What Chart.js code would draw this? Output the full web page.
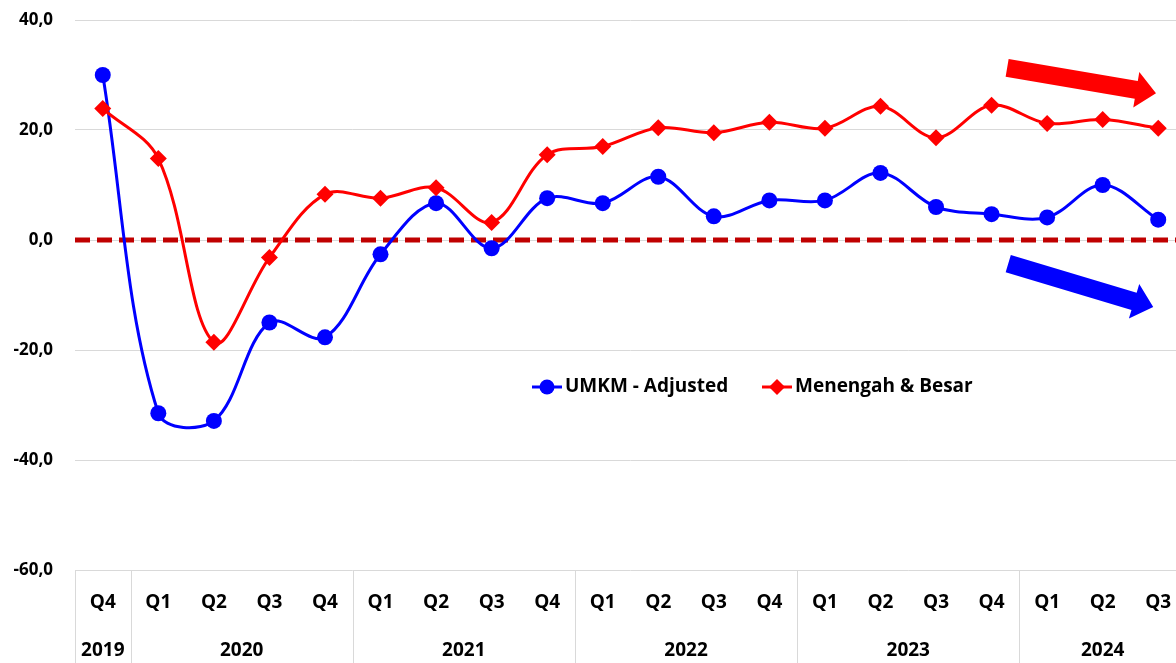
<!DOCTYPE html>
<html>
<head>
<meta charset="utf-8">
<script src="https://cdn.jsdelivr.net/npm/chart.js@4/dist/chart.umd.min.js"></script>
<style>
  html, body { margin: 0; padding: 0; background: #ffffff; overflow: hidden; }
  #wrap { width: 1186px; height: 663px; }
</style>
</head>
<body>
<div id="wrap"><canvas id="c" width="1186" height="663"></canvas></div>
<script>
// ---- Data ----
const quarters = ['Q4','Q1','Q2','Q3','Q4','Q1','Q2','Q3','Q4','Q1','Q2','Q3','Q4','Q1','Q2','Q3','Q4','Q1','Q2','Q3'];
const years = ['2019','2020','2021','2022','2023','2024'];
const yearSpans = [1, 4, 4, 4, 4, 3];
const umkmAdjusted = [30.0, -31.5, -32.9, -15.0, -17.7, -2.6, 6.7, -1.5, 7.6, 6.7, 11.5, 4.3, 7.2, 7.2, 12.2, 6.0, 4.7, 4.1, 10.0, 3.7];
const menengahBesar = [23.9, 14.8, -18.6, -3.2, 8.3, 7.6, 9.5, 3.2, 15.5, 17.0, 20.4, 19.5, 21.4, 20.3, 24.3, 18.6, 24.5, 21.2, 21.9, 20.3];
const zeroLevel = 0;
const yTicks = [40, 20, 0, -20, -40, -60];
const seriesNames = ['UMKM - Adjusted', 'Menengah & Besar'];
// trend arrows in data coordinates: [tailIndex, tailValue, tipIndex, tipValue]
const redArrow = [16.28, 31.3, 18.96, 26.7];
const blueArrow = [16.30, -4.3, 18.91, -12.2];

const FONT = '"Open Sans", Lato, sans-serif';
const BLUE = '#0000FF', RED = '#FF0000', DARKRED = '#C00000', GRID = '#D9D9D9';

function fmt(v) { return v.toFixed(1).replace('.', ','); }

const zeroPlugin = {
  id: 'zeroLine',
  beforeDatasetsDraw(chart) {
    const ctx = chart.ctx, area = chart.chartArea;
    const py = chart.scales.y.getPixelForValue(zeroLevel);
    ctx.save();
    ctx.strokeStyle = DARKRED;
    ctx.lineWidth = 5;
    ctx.setLineDash([15, 7]);
    ctx.beginPath();
    ctx.moveTo(area.left, py);
    ctx.lineTo(area.right, py);
    ctx.stroke();
    ctx.restore();
  }
};

const decorPlugin = {
  id: 'decor',
  afterDraw(chart) {
    const ctx = chart.ctx;
    const x = chart.scales.x, y = chart.scales.y;
    const area = chart.chartArea;
    const H = chart.height;
    function edge(i) {
      if (i <= 0) return area.left;
      if (i >= quarters.length) return area.right;
      return (x.getPixelForValue(i - 1) + x.getPixelForValue(i)) / 2;
    }
    ctx.save();
    ctx.strokeStyle = GRID;
    ctx.lineWidth = 1;
    let start = 0;
    const bounds = [0];
    yearSpans.forEach(s => { start += s; bounds.push(start); });
    bounds.forEach(b => {
      if (b >= quarters.length) return;
      const px = Math.round(edge(b)) + 0.5;
      ctx.beginPath();
      ctx.moveTo(px, area.bottom);
      ctx.lineTo(px, H);
      ctx.stroke();
    });
    ctx.fillStyle = '#000';
    ctx.font = 'bold 19px ' + FONT;
    ctx.textAlign = 'center';
    ctx.textBaseline = 'middle';
    years.forEach((yr, k) => {
      const a = bounds[k], b = bounds[k + 1];
      const cx = (x.getPixelForValue(a) + x.getPixelForValue(b - 1)) / 2;
      ctx.fillText(yr, cx, area.bottom + 81);
    });
    ctx.restore();

    // arrows
    function arrow(spec, color) {
      const x1 = x.getPixelForValue(spec[0]), y1 = y.getPixelForValue(spec[1]);
      const x2 = x.getPixelForValue(spec[2]), y2 = y.getPixelForValue(spec[3]);
      const dx = x2 - x1, dy = y2 - y1, L = Math.hypot(dx, dy);
      const ux = dx / L, uy = dy / L, nx = -uy, ny = ux;
      const shaft = 9, head = 18, hl = 20;
      const bx = x2 - ux * hl, by = y2 - uy * hl;
      ctx.save();
      ctx.fillStyle = color;
      ctx.beginPath();
      ctx.moveTo(x1 + nx * shaft, y1 + ny * shaft);
      ctx.lineTo(bx + nx * shaft, by + ny * shaft);
      ctx.lineTo(bx + nx * head, by + ny * head);
      ctx.lineTo(x2, y2);
      ctx.lineTo(bx - nx * head, by - ny * head);
      ctx.lineTo(bx - nx * shaft, by - ny * shaft);
      ctx.lineTo(x1 - nx * shaft, y1 - ny * shaft);
      ctx.closePath();
      ctx.fill();
      ctx.restore();
    }
    arrow(redArrow, RED);
    arrow(blueArrow, BLUE);

    // legend
    ctx.save();
    const ly = 387;
    const items = [
      { name: seriesNames[0], color: BLUE, style: 'circle', x0: 532 },
      { name: seriesNames[1], color: RED, style: 'rectRot', x0: 762 }
    ];
    items.forEach(it => {
      ctx.strokeStyle = it.color;
      ctx.lineWidth = 3;
      ctx.beginPath();
      ctx.moveTo(it.x0, ly);
      ctx.lineTo(it.x0 + 30, ly);
      ctx.stroke();
      ctx.fillStyle = it.color;
      ctx.beginPath();
      if (it.style === 'circle') {
        ctx.arc(it.x0 + 15, ly, 7.5, 0, Math.PI * 2);
      } else {
        ctx.moveTo(it.x0 + 15, ly - 8);
        ctx.lineTo(it.x0 + 23, ly);
        ctx.lineTo(it.x0 + 15, ly + 8);
        ctx.lineTo(it.x0 + 7, ly);
        ctx.closePath();
      }
      ctx.fill();
      ctx.fillStyle = '#000';
      ctx.font = 'bold 19px ' + FONT;
      ctx.textAlign = 'left';
      ctx.textBaseline = 'middle';
      ctx.fillText(it.name, it.x0 + 33, ly);
    });
    ctx.restore();
  }
};

new Chart(document.getElementById('c'), {
  type: 'line',
  data: {
    labels: quarters,
    datasets: [
      {
        label: seriesNames[1],
        data: menengahBesar,
        borderColor: RED,
        backgroundColor: RED,
        borderWidth: 3,
        pointStyle: 'rectRot',
        pointRadius: 8.5,
        pointBorderWidth: 0,
        tension: 0.35,
        order: 1
      },
      {
        label: seriesNames[0],
        data: umkmAdjusted,
        borderColor: BLUE,
        backgroundColor: BLUE,
        borderWidth: 3,
        pointStyle: 'circle',
        pointRadius: 8,
        pointBorderWidth: 0,
        tension: 0.35,
        order: 2
      }
    ]
  },
  options: {
    responsive: false,
    animation: false,
    devicePixelRatio: 1,
    layout: { autoPadding: false, padding: { top: 20, right: 0, bottom: 0, left: 0 } },
    plugins: {
      legend: { display: false },
      tooltip: { enabled: false }
    },
    scales: {
      x: {
        type: 'category',
        offset: true,
        grid: { display: false, drawTicks: false },
        border: { display: false },
        ticks: {
          color: '#000',
          font: { family: FONT, size: 19, weight: 'bold' },
          padding: 21,
          maxRotation: 0,
          autoSkip: false
        },
        afterFit(s) { s.height = 93; s.paddingLeft = 0; s.paddingRight = 0; }
      },
      y: {
        min: -60,
        max: 40,
        afterBuildTicks(s) { s.ticks = yTicks.map(v => ({ value: v })); },
        grid: { color: GRID, lineWidth: 1, drawTicks: false },
        border: { display: false },
        ticks: {
          color: '#000',
          font: { family: FONT, size: 17, weight: 'bold' },
          padding: 22,
          callback: v => fmt(v)
        },
        afterFit(s) { s.width = 75; s.paddingTop = 0; s.paddingBottom = 0; }
      }
    }
  },
  plugins: [zeroPlugin, decorPlugin]
});
</script>
</body>
</html>
